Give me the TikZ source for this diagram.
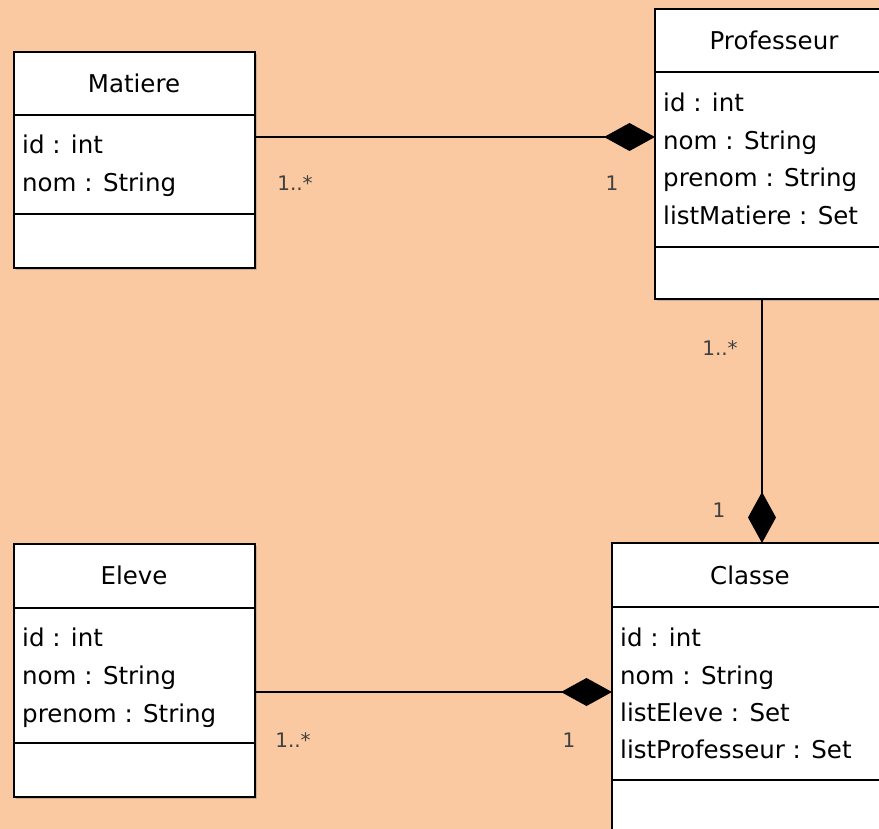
\documentclass[tikz,border=0pt]{standalone}
\usepackage{fontspec}
\setmainfont{DejaVu Sans}
\usetikzlibrary{arrows.meta, shadows}
\definecolor{peach}{RGB}{250,201,161}
\tikzset{
    %Define standard arrow tip (composition)
    >={Diamond[length=51pt, width=28pt]},
}

\begin{document}
\begin{tikzpicture}[x=1pt, y=-1pt,
    cls/.style = {draw, line width=2pt, fill=white, anchor=north west,
                  inner sep=0pt, outer sep=0pt,
                  drop shadow={shadow xshift=2pt, shadow yshift=-2pt, opacity=.4}},
    title/.style = {anchor=base, inner sep=0pt, font=\fontsize{24.5}{29}\selectfont},
    attr/.style = {anchor=base west, inner sep=0pt, font=\fontsize{24.5}{29}\selectfont},
    mult/.style = {font=\fontsize{20}{24}\selectfont, text=black!75},
    sep/.style = {line width=2pt},
    assoc/.style = {line width=1.6pt},
  ]
  \useasboundingbox (0,0) rectangle (879,829);
  \fill[peach] (0,0) rectangle (879,829);
  \clip (0,0) rectangle (879,829);

  % Matiere
  \node[cls, minimum width=241pt, minimum height=216pt] (matiere) at (14,52) {};
  \draw[sep] (matiere.west |- 0,115) -- (matiere.east |- 0,115);
  \draw[sep] (matiere.west |- 0,214) -- (matiere.east |- 0,214);
  \node[title] (matiere-name) at (134,93) {Matiere};
  \node[attr] (matiere-id) at (22,154) {id : int};
  \node[attr] (matiere-nom) at (22,192) {nom : String};

  % Professeur
  \node[cls, minimum width=238pt, minimum height=290pt] (professeur) at (655,9) {};
  \draw[sep] (professeur.west |- 0,72) -- (professeur.east |- 0,72);
  \draw[sep] (professeur.west |- 0,247) -- (professeur.east |- 0,247);
  \node[title] (professeur-name) at (774,50) {Professeur};
  \node[attr] (professeur-id) at (663,112) {id : int};
  \node[attr] (professeur-nom) at (663,150) {nom : String};
  \node[attr] (professeur-prenom) at (663,187) {prenom : String};
  \node[attr] (professeur-list) at (663,225) {listMatiere : Set};

  % Eleve
  \node[cls, minimum width=241pt, minimum height=253pt] (eleve) at (14,544) {};
  \draw[sep] (eleve.west |- 0,608) -- (eleve.east |- 0,608);
  \draw[sep] (eleve.west |- 0,743) -- (eleve.east |- 0,743);
  \node[title] (eleve-name) at (134,584) {Eleve};
  \node[attr] (eleve-id) at (22,646) {id : int};
  \node[attr] (eleve-nom) at (22,684) {nom : String};
  \node[attr] (eleve-prenom) at (22,722) {prenom : String};

  % Classe
  \node[cls, minimum width=276pt, minimum height=317pt] (classe) at (612,543) {};
  \draw[sep] (classe.west |- 0,607) -- (classe.east |- 0,607);
  \draw[sep] (classe.west |- 0,780) -- (classe.east |- 0,780);
  \node[title] (classe-name) at (750,584) {Classe};
  \node[attr] (classe-id) at (620,646) {id : int};
  \node[attr] (classe-nom) at (620,684) {nom : String};
  \node[attr] (classe-eleves) at (620,721) {listEleve : Set};
  \node[attr] (classe-profs) at (620,758) {listProfesseur : Set};

  % compositions
  \draw[assoc, ->] ([yshift=23pt]matiere.east) -- ([yshift=17pt]professeur.west);
  \draw[assoc, ->] ([xshift=-12pt]professeur.south) -- ([xshift=12pt]classe.north);
  \draw[assoc, ->] ([yshift=-21.5pt]eleve.east) -- ([yshift=-149pt]classe.north west);

  \node[mult] (mult-mat) at (295,183) {1..*};
  \node[mult] (mult-prof1) at (612,183) {1};
  \node[mult] (mult-prof2) at (720,348) {1..*};
  \node[mult] (mult-classe1) at (719,510) {1};
  \node[mult] (mult-eleve) at (293,740) {1..*};
  \node[mult] (mult-classe2) at (569,740) {1};
\end{tikzpicture}
\end{document}
